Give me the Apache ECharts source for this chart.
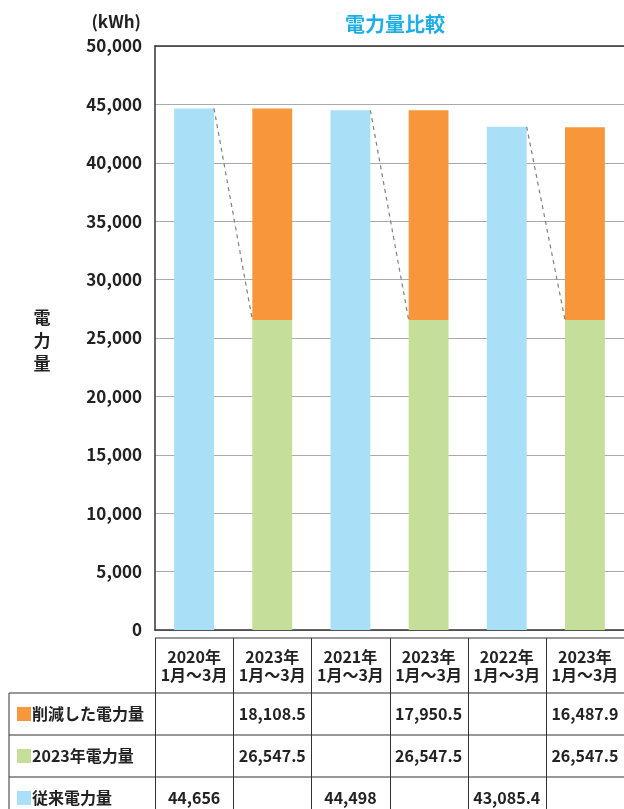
<!DOCTYPE html>
<html>
<head>
<meta charset="utf-8">
<script src="https://cdn.jsdelivr.net/npm/echarts@6/dist/echarts.min.js"></script>
<style>
html,body{margin:0;padding:0;background:#fff;}
#c{width:624px;height:809px;}
</style>
</head>
<body>
<div id="c"></div>
<script>
// ---- data ----
const categories = ['2020年\n1月～3月','2023年\n1月～3月','2021年\n1月～3月','2023年\n1月～3月','2022年\n1月～3月','2023年\n1月～3月'];
const previousValues = [44656, null, 44498, null, 43085.4, null];       // 従来電力量
const values2023     = [null, 26547.5, null, 26547.5, null, 26547.5];   // 2023年電力量
const reducedValues  = [null, 18108.5, null, 17950.5, null, 16487.9];   // 削減した電力量
const tableRowLabels = ['削減した電力量', '2023年電力量', '従来電力量'];
const tableRowValueText = [
  ['', '18,108.5', '', '17,950.5', '', '16,487.9'],
  ['', '26,547.5', '', '26,547.5', '', '26,547.5'],
  ['44,656', '', '44,498', '', '43,085.4', '']
];
const yMin = 0, yMax = 50000, yInterval = 5000;

// ---- styles ----
const FONT = '"Noto Sans CJK JP", "Noto Sans", sans-serif';
const colors = { reduced: '#f7963b', y2023: '#c5df9b', previous: '#aadff8' };
const rowColors = [colors.reduced, colors.y2023, colors.previous];
const BAR_FRAC = 0.51;

// dashed connectors: from previous bar top-right to next bar's 2023 top-left
const connectorData = [];
for (let i = 0; i < categories.length - 1; i++) {
  if (previousValues[i] != null && values2023[i + 1] != null) {
    connectorData.push([i, previousValues[i], values2023[i + 1]]);
  }
}

const chart = echarts.init(document.getElementById('c'), null, { renderer: 'canvas' });

const gridLeft = 155, gridTop = 46, gridBottomY = 630, W = 624, H = 809;

chart.setOption({
  animation: false,
  textStyle: { fontFamily: FONT },
  title: {
    text: '電力量比較',
    left: 390, top: 9, textAlign: 'center',
    textStyle: { color: '#1aaee5', fontSize: 20, fontWeight: 'bold', fontFamily: FONT }
  },
  grid: { left: gridLeft, right: -1, top: gridTop, bottom: H - gridBottomY, containLabel: false },
  xAxis: [{
    type: 'category',
    data: categories,
    axisLine: { show: true, lineStyle: { color: '#333', width: 1.5 } },
    axisTick: { show: false },
    axisLabel: {
      margin: 18, color: '#222', fontSize: 16, fontWeight: 'bold', lineHeight: 18, fontFamily: FONT, interval: 0
    },
    splitLine: { show: false }
  }, {
    type: 'category',
    data: categories,
    position: 'top',
    axisLine: { show: true, lineStyle: { color: '#333', width: 1.5 } },
    axisTick: { show: false },
    axisLabel: { show: false }
  }],
  yAxis: {
    type: 'value',
    min: yMin, max: yMax, interval: yInterval,
    axisLine: { show: true, lineStyle: { color: '#333', width: 1.5 } },
    axisTick: { show: false },
    axisLabel: {
      margin: 13, color: '#222', fontSize: 17, fontWeight: 'bold', fontFamily: FONT,
      formatter: v => v.toLocaleString('en-US')
    },
    splitLine: { show: true, lineStyle: { color: '#aaaaaa', width: 1 } }
  },
  series: [
    {
      name: '従来電力量', type: 'bar', stack: 'total', data: previousValues,
      barWidth: (BAR_FRAC * 100) + '%', itemStyle: { color: colors.previous }
    },
    {
      name: '2023年電力量', type: 'bar', stack: 'total', data: values2023,
      barWidth: (BAR_FRAC * 100) + '%', itemStyle: { color: colors.y2023 }
    },
    {
      name: '削減した電力量', type: 'bar', stack: 'total', data: reducedValues,
      barWidth: (BAR_FRAC * 100) + '%', itemStyle: { color: colors.reduced }
    },
    {
      type: 'custom',
      data: connectorData,
      z: 5,
      renderItem: function (params, api) {
        const i = api.value(0);
        const p1 = api.coord([i, api.value(1)]);
        const p2 = api.coord([i + 1, api.value(2)]);
        const half = api.size([1, 0])[0] * BAR_FRAC / 2;
        return {
          type: 'line',
          shape: { x1: p1[0] + half, y1: p1[1], x2: p2[0] - half, y2: p2[1] },
          style: { stroke: '#808080', lineWidth: 1.2, lineDash: [4, 4] }
        };
      }
    }
  ]
});

// ---- axis names and table (graphic) ----
const centers = categories.map((_, i) => chart.convertToPixel({ xAxisIndex: 0 }, i));
const band = centers.length > 1 ? centers[1] - centers[0] : 78;
const colEdges = centers.map(c => c - band / 2).concat([centers[centers.length - 1] + band / 2]);

const tableTop = 638, headerBottom = 693, rowH = 42, tableLeft = 9;
const rowTops = [headerBottom, headerBottom + rowH, headerBottom + 2 * rowH];
const lineStyle = { stroke: '#333', lineWidth: 1 };
const g = [];

// y axis unit and name
g.push({ type: 'text', x: 141, y: 22, style: { text: '(kWh)', fill: '#222', font: 'bold 17px ' + FONT, textAlign: 'right', textVerticalAlign: 'middle' } });
['電', '力', '量'].forEach((ch, k) => {
  g.push({ type: 'text', x: 42, y: 318 + k * 23, style: { text: ch, fill: '#222', font: 'bold 17px ' + FONT, textAlign: 'center', textVerticalAlign: 'middle' } });
});

// horizontal table lines
g.push({ type: 'line', shape: { x1: colEdges[0], y1: tableTop, x2: W + 2, y2: tableTop }, style: lineStyle });
rowTops.forEach(y => g.push({ type: 'line', shape: { x1: tableLeft, y1: y, x2: W + 2, y2: y }, style: lineStyle }));
// vertical table lines
g.push({ type: 'line', shape: { x1: tableLeft, y1: headerBottom, x2: tableLeft, y2: H + 2 }, style: lineStyle });
colEdges.forEach(x => g.push({ type: 'line', shape: { x1: Math.round(x) + 0.5, y1: tableTop, x2: Math.round(x) + 0.5, y2: H + 2 }, style: lineStyle }));

// rows
tableRowLabels.forEach((lab, r) => {
  const cy = rowTops[r] + rowH / 2;
  g.push({ type: 'rect', shape: { x: 17, y: cy - 7, width: 14, height: 14 }, style: { fill: rowColors[r] } });
  g.push({ type: 'text', x: 32, y: cy, style: { text: lab, fill: '#222', font: 'bold 16px ' + FONT, textAlign: 'left', textVerticalAlign: 'middle' } });
  tableRowValueText[r].forEach((t, i) => {
    if (!t) return;
    g.push({ type: 'text', x: centers[i], y: cy, style: { text: t, fill: '#222', font: 'bold 16px ' + FONT, textAlign: 'center', textVerticalAlign: 'middle' } });
  });
});

chart.setOption({ graphic: { elements: g } });
</script>
</body>
</html>
